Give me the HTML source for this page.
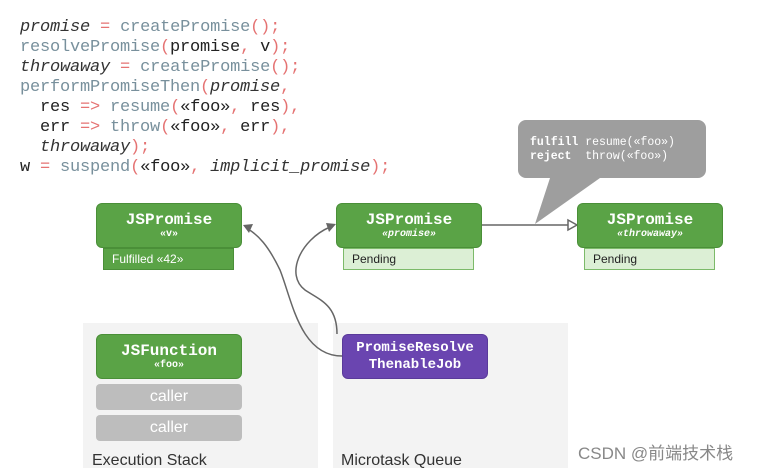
<!DOCTYPE html><html><head><style>
body{margin:0;width:764px;height:468px;background:#fff;overflow:hidden;position:relative;font-family:"Liberation Sans",sans-serif}
.code{position:absolute;left:20px;top:18px;font:17px/20px "Liberation Mono",monospace;color:#222;white-space:pre;letter-spacing:-0.2px}
.g{color:#78909c}.r{color:#e57373}i{font-style:italic;color:#333}
.box{position:absolute;border-radius:6px;color:#fff;text-align:center;font-family:"Liberation Mono",monospace;font-weight:bold;box-sizing:border-box}
.gr{background:#5aa346;border:1px solid #4a8f38}
.t{font-size:16px;line-height:18px;padding-top:7px}
.s{font-size:10px;line-height:12px;font-style:italic}
.bar{position:absolute;font-size:12px;line-height:22px;padding-left:8px;box-sizing:border-box;height:22px}
.panel{position:absolute;background:#f3f3f3;top:323px;height:145px;width:235px}
.cl{position:absolute;left:96px;width:146px;height:26px;background:#bdbdbd;border-radius:4px;color:#fff;text-align:center;font-size:16px;line-height:26px}
.lab{position:absolute;font-size:16px;color:#333}
</style></head><body>
<div class="code"><i>promise</i> <span class="r">=</span> <span class="g">createPromise</span><span class="r">();</span>
<span class="g">resolvePromise</span><span class="r">(</span>promise<span class="r">,</span> v<span class="r">);</span>
<i>throwaway</i> <span class="r">=</span> <span class="g">createPromise</span><span class="r">();</span>
<span class="g">performPromiseThen</span><span class="r">(</span><i>promise</i><span class="r">,</span>
  res <span class="r">=&gt;</span> <span class="g">resume</span><span class="r">(</span>«foo»<span class="r">,</span> res<span class="r">),</span>
  err <span class="r">=&gt;</span> <span class="g">throw</span><span class="r">(</span>«foo»<span class="r">,</span> err<span class="r">),</span>
  <i>throwaway</i><span class="r">);</span>
w <span class="r">=</span> <span class="g">suspend</span><span class="r">(</span>«foo»<span class="r">,</span> <i>implicit_promise</i><span class="r">);</span></div>

<div class="panel" style="left:83px"></div>
<div class="panel" style="left:333px"></div>

<svg style="position:absolute;left:0;top:0" width="764" height="468">
<path d="M518,128 a8,8 0 0 1 8,-8 h172 a8,8 0 0 1 8,8 v42 a8,8 0 0 1 -8,8 h-98 l-65,46 l15,-46 h-24 a8,8 0 0 1 -8,-8z" fill="#9e9e9e"/>
<line x1="482" y1="225" x2="570" y2="225" stroke="#666" stroke-width="1.5"/>
<path d="M568,220 L577,225 L568,230 Z" fill="#fff" stroke="#666" stroke-width="1.5"/>
<path d="M342,356 C300,356 292,300 280,270 C268,245 258,235 248,229" fill="none" stroke="#666" stroke-width="1.5"/>
<path d="M243,225 L253,224 L249,233 Z" fill="#666"/>
<path d="M337,334 C337,305 320,300 305,290 C285,275 300,240 330,227" fill="none" stroke="#666" stroke-width="1.5"/>
<path d="M336,224 L326,223 L329,232 Z" fill="#666"/>
</svg>
<div style="position:absolute;left:530px;top:136px;font:11.5px/14px 'Liberation Mono',monospace;color:#fff;white-space:pre"><b>fulfill</b> resume(«foo»)
<b>reject</b>  throw(«foo»)</div>

<div class="box gr" style="left:96px;top:203px;width:146px;height:45px"><div class="t">JSPromise</div><div class="s" style="font-style:normal">«v»</div></div>
<div class="bar" style="left:103px;top:248px;width:131px;background:#5aa346;color:#fff;border:1px solid #4a8f38;line-height:20px">Fulfilled «42»</div>

<div class="box gr" style="left:336px;top:203px;width:146px;height:45px"><div class="t">JSPromise</div><div class="s">«promise»</div></div>
<div class="bar" style="left:343px;top:248px;width:131px;background:#dcefd5;color:#222;border:1px solid #7cba69;line-height:20px">Pending</div>

<div class="box gr" style="left:577px;top:203px;width:146px;height:45px"><div class="t">JSPromise</div><div class="s">«throwaway»</div></div>
<div class="bar" style="left:584px;top:248px;width:131px;background:#dcefd5;color:#222;border:1px solid #7cba69;line-height:20px">Pending</div>

<div class="box gr" style="left:96px;top:334px;width:146px;height:45px"><div class="t">JSFunction</div><div class="s" style="font-style:normal">«foo»</div></div>
<div class="cl" style="top:384px">caller</div>
<div class="cl" style="top:415px">caller</div>

<div class="box" style="left:342px;top:334px;width:146px;height:45px;background:#6a45b0;border:1px solid #5a3a9a;font-size:14px;line-height:17px;padding-top:5px">PromiseResolve<br>ThenableJob</div>

<div class="lab" style="left:92px;top:452px">Execution Stack</div>
<div class="lab" style="left:341px;top:452px">Microtask Queue</div>
<div style="position:absolute;left:578px;top:439px;font-size:17px;color:#888;font-family:'Liberation Sans','Noto Sans CJK SC',sans-serif">CSDN @前端技术栈</div>
</body></html>
